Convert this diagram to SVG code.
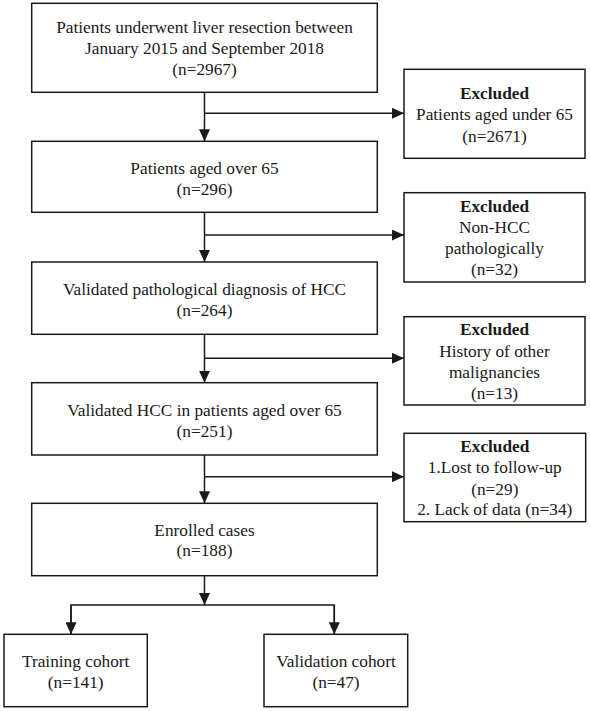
<svg xmlns="http://www.w3.org/2000/svg" width="590" height="711" viewBox="0 0 590 711">
<defs>
<marker id="arr" markerUnits="userSpaceOnUse" markerWidth="12" markerHeight="11" refX="12" refY="5.5" orient="auto">
<path d="M0,0 L12,5.5 L0,11 z" fill="#1a1a1a"/>
</marker>
<style>
rect{fill:#fff;stroke:#1a1a1a;stroke-width:1.5}
text{font-family:"Liberation Serif","Times New Roman",serif;font-size:17.3px;fill:#1a1a1a;text-anchor:middle}
.b{font-weight:bold}
.c{fill:none;stroke:#1a1a1a;stroke-width:1.5}
</style>
</defs>
<rect x="0" y="0" width="590" height="711" style="fill:#fff;stroke:none"/>
<g id="connectors">
<line class="c" x1="204.5" y1="92.3" x2="204.5" y2="141.3" marker-end="url(#arr)"/>
<line class="c" x1="204.5" y1="113.3" x2="404" y2="113.3" marker-end="url(#arr)"/>
<line class="c" x1="204.5" y1="212.3" x2="204.5" y2="262" marker-end="url(#arr)"/>
<line class="c" x1="204.5" y1="235" x2="404" y2="235" marker-end="url(#arr)"/>
<line class="c" x1="204.5" y1="334.3" x2="204.5" y2="382.7" marker-end="url(#arr)"/>
<line class="c" x1="204.5" y1="358.3" x2="404" y2="358.3" marker-end="url(#arr)"/>
<line class="c" x1="204.5" y1="455" x2="204.5" y2="503.3" marker-end="url(#arr)"/>
<line class="c" x1="204.5" y1="476.7" x2="404" y2="476.7" marker-end="url(#arr)"/>
<line class="c" x1="204.5" y1="575.7" x2="204.5" y2="605" marker-end="url(#arr)"/>
<polyline class="c" points="71,634.3 71,605 334.3,605 334.3,634.3"/>
<line class="c" x1="71" y1="605" x2="71" y2="634.3" marker-end="url(#arr)"/>
<line class="c" x1="334.3" y1="605" x2="334.3" y2="634.3" marker-end="url(#arr)"/>
</g>
<g id="box1">
<rect x="31.7" y="3.3" width="345.6" height="89"/>
<text x="204.5" y="33.3">Patients underwent liver resection between</text>
<text x="204.5" y="54.3">January 2015 and September 2018</text>
<text x="204.5" y="75.3">(n=2967)</text>
</g>
<g id="excl1">
<rect x="404" y="69.3" width="181" height="89"/>
<text x="494.5" y="99" class="b">Excluded</text>
<text x="494.5" y="120.3">Patients aged under 65</text>
<text x="494.5" y="141.8">(n=2671)</text>
</g>
<g id="box2">
<rect x="31.7" y="141.3" width="345.6" height="71"/>
<text x="204.5" y="173.8">Patients aged over 65</text>
<text x="204.5" y="195">(n=296)</text>
</g>
<g id="excl2">
<rect x="404" y="192.7" width="181" height="89.3"/>
<text x="494.5" y="211.7" class="b">Excluded</text>
<text x="494.5" y="233.3">Non-HCC</text>
<text x="494.5" y="254">pathologically</text>
<text x="494.5" y="275.3">(n=32)</text>
</g>
<g id="box3">
<rect x="31.7" y="262" width="345.6" height="72.3"/>
<text x="204.5" y="294.5">Validated pathological diagnosis of HCC</text>
<text x="204.5" y="315.5">(n=264)</text>
</g>
<g id="excl3">
<rect x="404" y="316.7" width="181" height="88.3"/>
<text x="494.5" y="335" class="b">Excluded</text>
<text x="494.5" y="356.5">History of other</text>
<text x="494.5" y="377.5">malignancies</text>
<text x="494.5" y="398.5">(n=13)</text>
</g>
<g id="box4">
<rect x="31.7" y="382.7" width="345.6" height="72.3"/>
<text x="204.5" y="415.5">Validated HCC in patients aged over 65</text>
<text x="204.5" y="436.5">(n=251)</text>
</g>
<g id="excl4">
<rect x="404" y="433.3" width="181.7" height="88.4"/>
<text x="494.8" y="451.7" class="b">Excluded</text>
<text x="494.8" y="473.3">1.Lost to follow-up</text>
<text x="494.8" y="494.8">(n=29)</text>
<text x="494.8" y="515.3">2. Lack of data (n=34)</text>
</g>
<g id="box5">
<rect x="31.7" y="503.3" width="345.6" height="72.4"/>
<text x="204.5" y="535.5">Enrolled cases</text>
<text x="204.5" y="556.3">(n=188)</text>
</g>
<g id="training">
<rect x="4" y="634.3" width="143.3" height="72.4"/>
<text x="75.7" y="667">Training cohort</text>
<text x="75.7" y="688">(n=141)</text>
</g>
<g id="validation">
<rect x="264" y="634.3" width="143.7" height="72.4"/>
<text x="336" y="667">Validation cohort</text>
<text x="336" y="688">(n=47)</text>
</g>
</svg>
